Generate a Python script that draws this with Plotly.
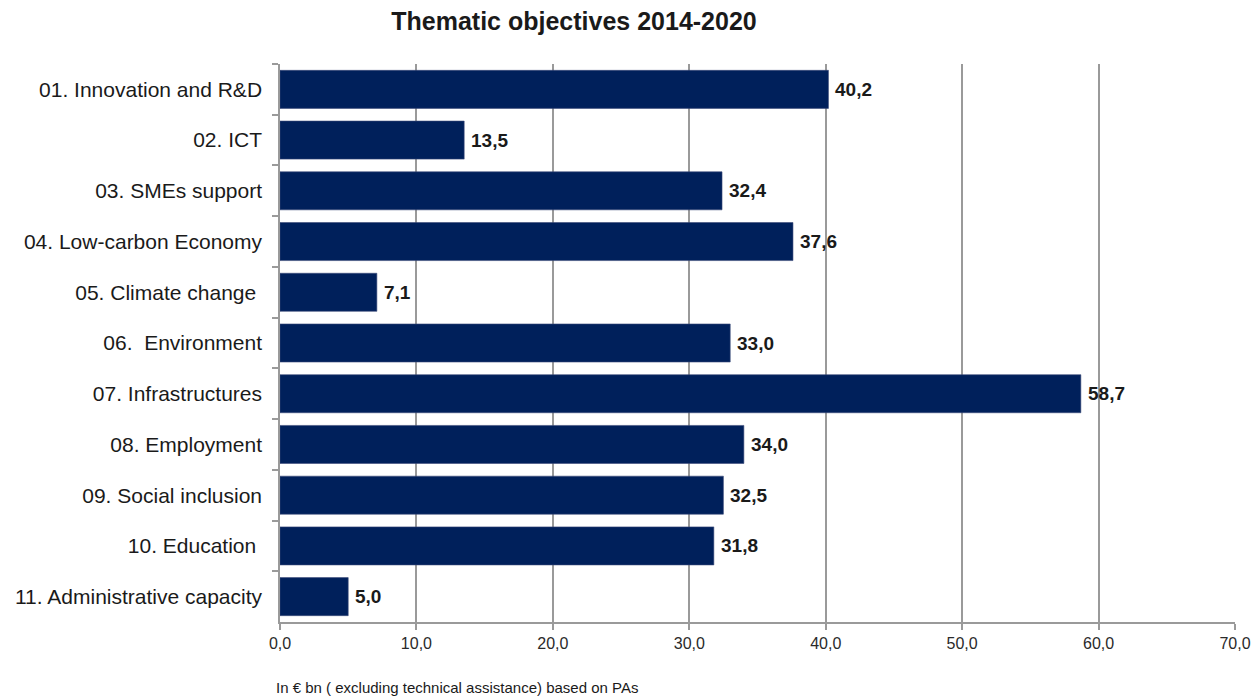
import plotly.graph_objects as go

# Thematic objectives and their allocations (EUR bn)
categories = [
    "01. Innovation and R&D",
    "02. ICT",
    "03. SMEs support",
    "04. Low-carbon Economy",
    "05. Climate change ",
    "06.  Environment",
    "07. Infrastructures",
    "08. Employment",
    "09. Social inclusion",
    "10. Education ",
    "11. Administrative capacity",
]
values = [40.2, 13.5, 32.4, 37.6, 7.1, 33.0, 58.7, 34.0, 32.5, 31.8, 5.0]

x_ticks = [0, 10, 20, 30, 40, 50, 60, 70]

FONT = "Liberation Sans, Arial, sans-serif"
BAR = "#00205B"
GRID = "#9a9a9a"

fig = go.Figure(
    go.Bar(
        x=values,
        y=categories,
        orientation="h",
        marker=dict(color=BAR, line=dict(color="#3a4a78", width=0.6)),
        hoverinfo="x+y",
    )
)

# value labels just right of each bar
for cat, v in zip(categories, values):
    fig.add_annotation(
        x=v, y=cat, xref="x", yref="y",
        text=f"<b>{v:.1f}</b>".replace(".", ","),
        showarrow=False, xanchor="left", yanchor="middle", xshift=5,
        font=dict(family=FONT, size=19, color="#1a1a1a"),
    )

fig.add_annotation(
    x=0, y=0, xref="paper", yref="paper", yshift=-65, xshift=-6,
    xanchor="left", yanchor="middle", showarrow=False,
    text="In € bn ( excluding technical assistance) based on PAs",
    font=dict(family=FONT, size=15, color="#1a1a1a"),
)

fig.update_layout(
    width=1252, height=698,
    margin=dict(l=280, r=17, t=64, b=76),
    paper_bgcolor="white", plot_bgcolor="white",
    bargap=0.25,
    showlegend=False,
    separators=",.",
    title=dict(
        text="<b>Thematic objectives 2014-2020</b>",
        x=574 / 1252, xanchor="center", y=1 - 21 / 698, yanchor="middle",
        font=dict(family=FONT, size=25, color="#1a1a1a"),
    ),
    font=dict(family=FONT, color="#1a1a1a"),
)

fig.update_xaxes(
    range=[0, 70], tickvals=x_ticks, tickformat=".1f",
    showgrid=True, gridcolor=GRID, gridwidth=1.5,
    showline=True, linecolor=GRID, linewidth=1.5,
    ticks="outside", ticklen=6, tickcolor=GRID, tickwidth=1.5,
    tickfont=dict(family=FONT, size=16, color="#2a2a2a"),
    zeroline=False, fixedrange=True, automargin=False,
)
fig.update_yaxes(
    autorange="reversed",
    showline=True, linecolor=GRID, linewidth=1.5,
    ticks="outside", tickson="boundaries", ticklen=6, tickcolor=GRID, tickwidth=1.5,
    ticklabelstandoff=12,
    tickfont=dict(family=FONT, size=21, color="#1a1a1a"),
    showgrid=False, fixedrange=True, automargin=False,
)

fig.write_html("out.html")
